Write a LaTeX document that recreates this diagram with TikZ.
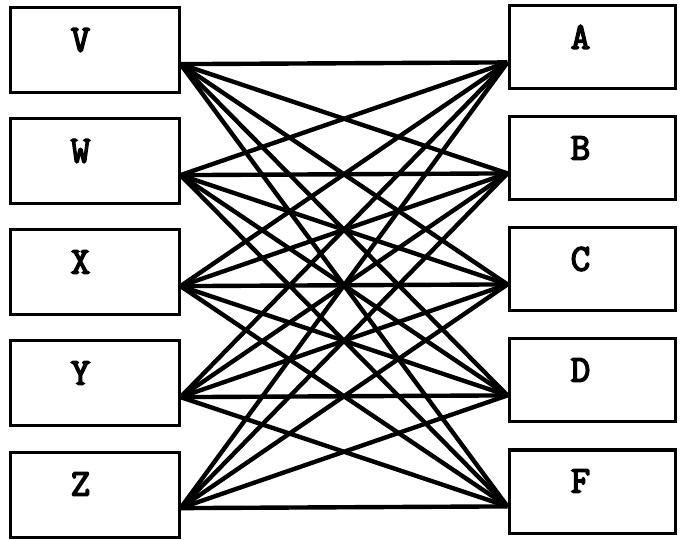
\documentclass[tikz,border=0pt]{standalone}
\usepackage{fontspec}
\newfontfamily\boxfont[FakeBold=4]{Latin Modern Mono}
\usetikzlibrary{calc}
\tikzset{
  lbox/.style={draw,line width=3pt,minimum width=169pt,minimum height=85pt},
  rbox/.style={draw,line width=3pt,minimum width=166pt,minimum height=83pt},
  tag/.style={font=\boxfont\fontsize{38}{40}\selectfont},
  wire/.style={line width=4.4pt}
}
\begin{document}
\begin{tikzpicture}[x=1pt,y=-1pt]
\useasboundingbox (0,0) rectangle (681,540);
% left column
\foreach \nm/\y in {V/50.5,W/161.5,X/272.5,Y/383.5,Z/494.5}{
  \node[lbox] (\nm) at (94.5,\y) {};
  \node[tag] (t\nm) at ($(\nm)+(-14,-10.5)$) {\nm};
}
% right column
\foreach \nm/\y in {A/47.5,B/158.5,C/269.5,D/380.5,F/491.5}{
  \node[rbox] (\nm) at (592,\y) {};
  \node[tag] (t\nm) at ($(\nm)+(-11.5,-10.5)$) {\nm};
}
% every left box to every right box
\foreach \l in {V,W,X,Y,Z}
  \foreach \r in {A,B,C,D,F}
    \draw[wire] (\l.-9.7) -- (\r.190.6);
\end{tikzpicture}
\end{document}
